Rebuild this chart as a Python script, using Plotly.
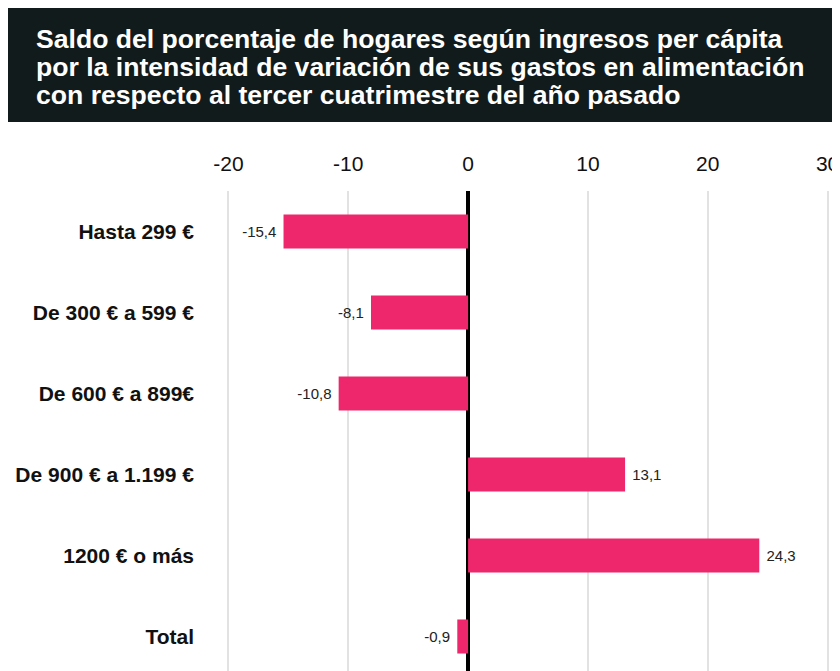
import plotly.graph_objects as go

categories = ["Hasta 299 €", "De 300 € a 599 €", "De 600 € a 899€", "De 900 € a 1.199 €", "1200 € o más", "Total"]
values = [-15.4, -8.1, -10.8, 13.1, 24.3, -0.9]
tick_vals = [-20, -10, 0, 10, 20, 30]
title_lines = [
    "Saldo del porcentaje de hogares según ingresos per cápita",
    "por la intensidad de variación de sus gastos en alimentación",
    "con respecto al tercer cuatrimestre del año pasado",
]

FONT = "Liberation Sans, Arial, Helvetica, sans-serif"
W, H = 840, 671
# plot area in figure pixels
px_left, px_right = 217.6, 822.4
px_top, px_bottom = 183, 671
pw = px_right - px_left
ph = px_bottom - px_top

NBSP = "\u00a0"
labels = []
for v in values:
    s = f"{v:.1f}".replace(".", ",")
    labels.append(s + NBSP if v < 0 else NBSP + s)

fig = go.Figure()
fig.add_trace(go.Bar(
    x=values,
    y=list(range(len(categories))),
    orientation="h",
    marker=dict(color="#EE266B", line=dict(width=0)),
    text=labels,
    textposition="outside",
    textfont=dict(family=FONT, size=15, color="#222222"),
    cliponaxis=False,
    width=0.42,
    hoverinfo="skip",
))

def px_to_paper_x(px):
    return (px - px_left) / pw

def px_to_paper_y(py):
    return (px_bottom - py) / ph

# title box
fig.add_shape(
    type="rect", xref="paper", yref="paper",
    x0=px_to_paper_x(-1), x1=px_to_paper_x(845),
    y0=px_to_paper_y(114), y1=px_to_paper_y(0),
    fillcolor="#121B1B", line=dict(width=0), layer="above",
)
for i, line in enumerate(title_lines):
    fig.add_annotation(
        xref="paper", yref="paper",
        x=px_to_paper_x(25), y=px_to_paper_y(31 + 28 * i),
        xanchor="left", yanchor="middle",
        text=f"<b>{line}</b>", showarrow=False,
        font=dict(family=FONT, size=26.6, color="white"),
    )

fig.update_layout(
    width=W, height=H,
    margin=dict(l=px_left, r=W - px_right, t=px_top, b=H - px_bottom, pad=0),
    paper_bgcolor="white", plot_bgcolor="white",
    showlegend=False,
    bargap=0.58,
    xaxis=dict(
        side="top",
        range=[-20.2, 30.2],
        tickvals=tick_vals,
        ticktext=[str(t) for t in tick_vals],
        tickfont=dict(family=FONT, size=21, color="#111111"),
        showgrid=True, gridcolor="#E2E2E2", gridwidth=2,
        zeroline=True, zerolinecolor="#000000", zerolinewidth=4,
        showline=False, ticks="",
        ticklabelstandoff=15,
        fixedrange=True,
    ),
    yaxis=dict(
        tickvals=list(range(len(categories))),
        ticktext=[f"<b>{c}</b>" for c in categories],
        range=[-0.5 + (px_bottom - px_top) / 81.0, -0.5],
        tickfont=dict(family=FONT, size=21, color="#111111"),
        showgrid=False, zeroline=False, showline=False, ticks="",
        ticklabelstandoff=31,
        fixedrange=True,
    ),
)

fig.write_html("out.html")
